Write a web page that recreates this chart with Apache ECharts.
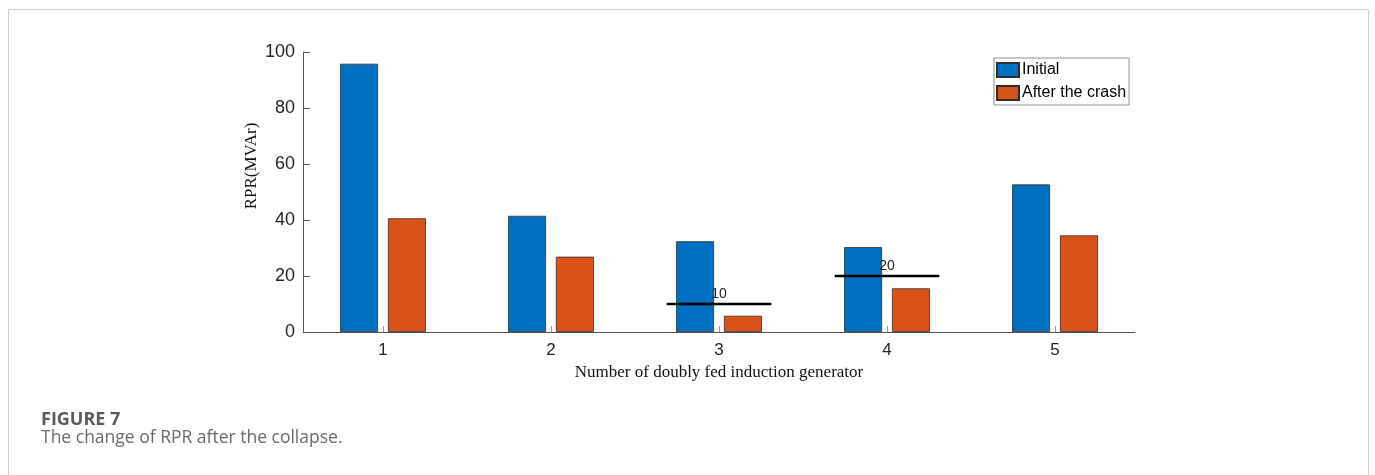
<!DOCTYPE html>
<html>
<head>
<meta charset="utf-8">
<script src="https://cdn.jsdelivr.net/npm/echarts@6/dist/echarts.min.js"></script>
<style>
  html, body { margin: 0; padding: 0; background: #fff; }
  #chart { width: 1375px; height: 475px; }
</style>
</head>
<body>
<div id="chart"></div>
<script>
// Generator numbers (x positions) and tick labels
const generators = [1, 2, 3, 4, 5];
const yTicks = [0, 20, 40, 60, 80, 100];

// Reactive power reserve (MVAr) per doubly fed induction generator
const initialRPR = [95.8, 41.5, 32.4, 30.3, 52.7];
const afterCrashRPR = [40.6, 26.9, 5.8, 15.6, 34.5];

// Threshold markers drawn across generators 3 and 4
const thresholdValues = [10, 20];
const thresholdCenters = [3, 4];
const thresholdHalfSpan = 0.31;

const seriesNames = ['Initial', 'After the crash'];

const chart = echarts.init(document.getElementById('chart'), null, { renderer: 'canvas' });

const toPairs = (vals) => vals.map((v, i) => [generators[i], v]);

const thresholdSeries = thresholdValues.map((v, i) => {
  const c = thresholdCenters[i];
  return {
    type: 'line',
    silent: true,
    z: 5,
    symbol: 'circle',
    symbolSize: 1,
    itemStyle: { color: '#000' },
    lineStyle: { color: '#000', width: 2.5 },
    data: [
      { value: [c - thresholdHalfSpan, v] },
      {
        value: [c, v],
        label: {
          show: true,
          position: 'top',
          distance: 2,
          formatter: String(v),
          color: '#222',
          fontSize: 14,
          fontFamily: 'Arial, "Liberation Sans", sans-serif'
        }
      },
      { value: [c + thresholdHalfSpan, v] }
    ]
  };
});

const barStyle = (color) => ({
  color: color,
  borderColor: '#2e2e2e',
  borderWidth: 0.8
});

chart.setOption({
  animation: false,
  grid: { left: 303, right: 240, top: 52, bottom: 143 },
  legend: {
    data: seriesNames,
    orient: 'vertical',
    left: 994,
    top: 58,
    itemWidth: 22,
    itemHeight: 14,
    itemGap: 7,
    padding: [4, 3, 4, 2],
    borderColor: '#8f8f8f',
    borderWidth: 1,
    backgroundColor: '#fff',
    icon: 'rect',
    textStyle: {
      color: '#000',
      fontSize: 16,
      fontFamily: 'Arial, "Liberation Sans", sans-serif',
      padding: [0, 0, 0, -2]
    }
  },
  xAxis: {
    type: 'value',
    min: 0.524,
    max: 5.476,
    splitLine: { show: false },
    axisLine: { show: true, lineStyle: { color: '#555', width: 1 } },
    axisTick: {
      show: true,
      inside: true,
      length: 6,
      customValues: generators,
      lineStyle: { color: '#9a9a9a', width: 1 }
    },
    axisLabel: {
      customValues: generators,
      margin: 10,
      color: '#262626',
      fontSize: 17,
      fontFamily: 'Arial, "Liberation Sans", sans-serif'
    },
    name: 'Number of doubly fed induction generator',
    nameLocation: 'middle',
    nameGap: 30,
    nameTextStyle: {
      color: '#111',
      fontSize: 17,
      fontFamily: '"Liberation Serif", "Times New Roman", serif'
    }
  },
  yAxis: {
    type: 'value',
    min: 0,
    max: 100,
    interval: 20,
    splitLine: { show: false },
    axisLine: { show: true, lineStyle: { color: '#555', width: 1 } },
    axisTick: { show: true, inside: true, length: 7, lineStyle: { color: '#555' } },
    axisLabel: {
      margin: 8,
      color: '#262626',
      fontSize: 18,
      fontFamily: 'Arial, "Liberation Sans", sans-serif',
      formatter: (v) => (yTicks.indexOf(v) >= 0 ? String(v) : '')
    }
  },
  series: [
    {
      name: seriesNames[0],
      type: 'bar',
      barWidth: 38,
      barGap: '26%',
      itemStyle: barStyle('#0070C0'),
      data: toPairs(initialRPR)
    },
    {
      name: seriesNames[1],
      type: 'bar',
      barWidth: 38,
      barGap: '26%',
      itemStyle: barStyle('#D95319'),
      data: toPairs(afterCrashRPR)
    }
  ].concat(thresholdSeries),
  graphic: [
    {
      type: 'polyline',
      silent: true,
      shape: { points: [[8.5, 476], [8.5, 9.5], [1368.5, 9.5], [1368.5, 476]] },
      style: { fill: null, stroke: '#cfcfcf', lineWidth: 1 }
    },
    {
      type: 'text',
      x: 252,
      y: 166,
      rotation: Math.PI / 2,
      style: {
        text: 'RPR(MVAr)',
        fill: '#111',
        font: '17px "Liberation Serif", "Times New Roman", serif',
        align: 'center',
        verticalAlign: 'middle'
      }
    },
    {
      type: 'text',
      left: 41,
      top: 411,
      style: {
        text: 'FIGURE 7',
        fill: '#5b5b5b',
        font: 'bold 18px "Open Sans", sans-serif'
      }
    },
    {
      type: 'text',
      left: 41,
      top: 429,
      style: {
        text: 'The change of RPR after the collapse.',
        fill: '#6a6a6a',
        font: '17.5px "Open Sans", sans-serif'
      }
    }
  ]
});
</script>
</body>
</html>
